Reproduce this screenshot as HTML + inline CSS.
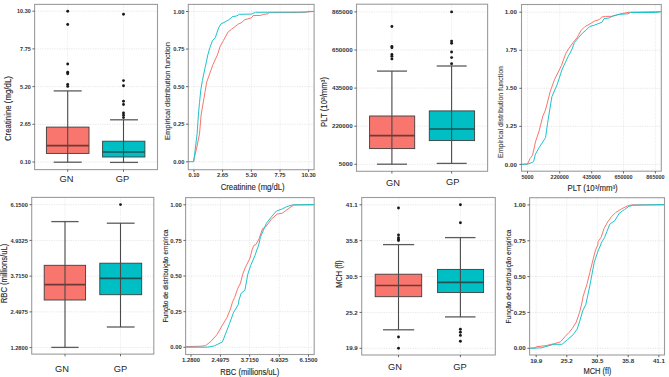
<!DOCTYPE html>
<html><head><meta charset="utf-8"><style>
html,body{margin:0;padding:0;background:#fff;width:669px;height:377px;overflow:hidden}
svg{display:block;font-family:"Liberation Sans", sans-serif}
</style></head><body>
<svg width="669" height="377" viewBox="0 0 669 377">
<rect width="669" height="377" fill="#fff"/>
<defs><clipPath id="clip4"><rect x="495" y="0" width="50" height="25"/><rect x="506.2" y="25" width="40" height="125"/><rect x="495" y="150" width="50" height="40"/></clipPath></defs>
<line x1="35.20" y1="162.00" x2="156.90" y2="162.00" stroke="#e0e0e0" stroke-width="0.8" stroke-dasharray="1.2 1.2"/>
<line x1="35.20" y1="124.30" x2="156.90" y2="124.30" stroke="#e0e0e0" stroke-width="0.8" stroke-dasharray="1.2 1.2"/>
<line x1="35.20" y1="86.60" x2="156.90" y2="86.60" stroke="#e0e0e0" stroke-width="0.8" stroke-dasharray="1.2 1.2"/>
<line x1="35.20" y1="48.90" x2="156.90" y2="48.90" stroke="#e0e0e0" stroke-width="0.8" stroke-dasharray="1.2 1.2"/>
<line x1="35.20" y1="11.20" x2="156.90" y2="11.20" stroke="#e0e0e0" stroke-width="0.8" stroke-dasharray="1.2 1.2"/>
<line x1="67.70" y1="5.00" x2="67.70" y2="169.00" stroke="#e6e6e6" stroke-width="0.8" stroke-dasharray="1.2 1.2"/>
<line x1="123.50" y1="5.00" x2="123.50" y2="169.00" stroke="#e6e6e6" stroke-width="0.8" stroke-dasharray="1.2 1.2"/>
<line x1="53.70" y1="90.90" x2="81.70" y2="90.90" stroke="#5c5c5c" stroke-width="1.3" />
<line x1="53.70" y1="162.20" x2="81.70" y2="162.20" stroke="#5c5c5c" stroke-width="1.3" />
<rect x="46.40" y="127.10" width="42.60" height="26.30" fill="#F8766D" stroke="#3d3d3d" stroke-width="0.9"/>
<line x1="67.70" y1="90.90" x2="67.70" y2="162.20" stroke="#4a4a4a" stroke-width="1.1" />
<line x1="46.40" y1="145.70" x2="89.00" y2="145.70" stroke="#6e3a36" stroke-width="1.7" />
<circle cx="67.70" cy="11.20" r="1.45" fill="#1a1a1a"/>
<circle cx="67.70" cy="24.50" r="1.45" fill="#1a1a1a"/>
<circle cx="67.70" cy="64.00" r="1.45" fill="#1a1a1a"/>
<circle cx="67.70" cy="72.20" r="1.45" fill="#1a1a1a"/>
<circle cx="67.70" cy="73.70" r="1.45" fill="#1a1a1a"/>
<circle cx="67.70" cy="84.50" r="1.45" fill="#1a1a1a"/>
<circle cx="67.70" cy="86.40" r="1.45" fill="#1a1a1a"/>
<line x1="110.00" y1="119.80" x2="138.00" y2="119.80" stroke="#5c5c5c" stroke-width="1.3" />
<line x1="110.00" y1="162.40" x2="138.00" y2="162.40" stroke="#5c5c5c" stroke-width="1.3" />
<rect x="102.60" y="141.20" width="42.30" height="15.80" fill="#00BFC4" stroke="#3d3d3d" stroke-width="0.9"/>
<line x1="123.50" y1="119.80" x2="123.50" y2="162.40" stroke="#4a4a4a" stroke-width="1.1" />
<line x1="102.60" y1="152.00" x2="144.90" y2="152.00" stroke="#1d5355" stroke-width="1.7" />
<circle cx="123.50" cy="14.20" r="1.45" fill="#1a1a1a"/>
<circle cx="123.50" cy="80.60" r="1.45" fill="#1a1a1a"/>
<circle cx="123.50" cy="85.80" r="1.45" fill="#1a1a1a"/>
<circle cx="123.50" cy="101.30" r="1.45" fill="#1a1a1a"/>
<circle cx="123.50" cy="104.50" r="1.45" fill="#1a1a1a"/>
<circle cx="123.50" cy="112.90" r="1.45" fill="#1a1a1a"/>
<circle cx="123.50" cy="115.20" r="1.45" fill="#1a1a1a"/>
<circle cx="123.50" cy="117.60" r="1.45" fill="#1a1a1a"/>
<rect x="34.60" y="4.40" width="122.90" height="165.20" fill="none" stroke="#9c9c9c" stroke-width="1.1"/>
<line x1="32.40" y1="162.00" x2="34.60" y2="162.00" stroke="#555" stroke-width="0.9" />
<line x1="32.40" y1="124.30" x2="34.60" y2="124.30" stroke="#555" stroke-width="0.9" />
<line x1="32.40" y1="86.60" x2="34.60" y2="86.60" stroke="#555" stroke-width="0.9" />
<line x1="32.40" y1="48.90" x2="34.60" y2="48.90" stroke="#555" stroke-width="0.9" />
<line x1="32.40" y1="11.20" x2="34.60" y2="11.20" stroke="#555" stroke-width="0.9" />
<text transform="translate(30.70,164.10) scale(0.88,1)" font-size="6.2" fill="#333" text-anchor="end" font-weight="600" >0.10</text>
<text transform="translate(30.70,126.40) scale(0.88,1)" font-size="6.2" fill="#333" text-anchor="end" font-weight="600" >2.65</text>
<text transform="translate(30.70,88.70) scale(0.88,1)" font-size="6.2" fill="#333" text-anchor="end" font-weight="600" >5.20</text>
<text transform="translate(30.70,51.00) scale(0.88,1)" font-size="6.2" fill="#333" text-anchor="end" font-weight="600" >7.75</text>
<text transform="translate(30.70,13.30) scale(0.88,1)" font-size="6.2" fill="#333" text-anchor="end" font-weight="600" >10.30</text>
<line x1="67.70" y1="169.60" x2="67.70" y2="171.80" stroke="#555" stroke-width="0.9" />
<line x1="123.50" y1="169.60" x2="123.50" y2="171.80" stroke="#555" stroke-width="0.9" />
<text x="66.40" y="182.30" font-size="9.3" fill="#1e1e1e" text-anchor="middle" font-weight="normal" >GN</text>
<text x="122.40" y="182.30" font-size="9.3" fill="#1e1e1e" text-anchor="middle" font-weight="normal" >GP</text>
<text transform="translate(8.00,108.60) rotate(-90)" x="0" y="0" dy="0.35em" font-size="8.2" fill="#262626" stroke="#262626" stroke-width="0.12" text-anchor="middle" textLength="65" lengthAdjust="spacingAndGlyphs">Creatinine (mg/dL)</text>
<line x1="357.10" y1="164.30" x2="487.00" y2="164.30" stroke="#e0e0e0" stroke-width="0.8" stroke-dasharray="1.2 1.2"/>
<line x1="357.10" y1="126.20" x2="487.00" y2="126.20" stroke="#e0e0e0" stroke-width="0.8" stroke-dasharray="1.2 1.2"/>
<line x1="357.10" y1="88.10" x2="487.00" y2="88.10" stroke="#e0e0e0" stroke-width="0.8" stroke-dasharray="1.2 1.2"/>
<line x1="357.10" y1="50.00" x2="487.00" y2="50.00" stroke="#e0e0e0" stroke-width="0.8" stroke-dasharray="1.2 1.2"/>
<line x1="357.10" y1="11.90" x2="487.00" y2="11.90" stroke="#e0e0e0" stroke-width="0.8" stroke-dasharray="1.2 1.2"/>
<line x1="391.90" y1="4.80" x2="391.90" y2="170.70" stroke="#e6e6e6" stroke-width="0.8" stroke-dasharray="1.2 1.2"/>
<line x1="451.60" y1="4.80" x2="451.60" y2="170.70" stroke="#e6e6e6" stroke-width="0.8" stroke-dasharray="1.2 1.2"/>
<line x1="377.00" y1="71.10" x2="407.00" y2="71.10" stroke="#5c5c5c" stroke-width="1.3" />
<line x1="377.00" y1="164.20" x2="407.00" y2="164.20" stroke="#5c5c5c" stroke-width="1.3" />
<rect x="369.60" y="116.00" width="45.10" height="32.60" fill="#F8766D" stroke="#3d3d3d" stroke-width="0.9"/>
<line x1="391.90" y1="71.10" x2="391.90" y2="164.20" stroke="#4a4a4a" stroke-width="1.1" />
<line x1="369.60" y1="135.60" x2="414.70" y2="135.60" stroke="#6e3a36" stroke-width="1.7" />
<circle cx="391.90" cy="26.50" r="1.45" fill="#1a1a1a"/>
<circle cx="391.90" cy="46.40" r="1.45" fill="#1a1a1a"/>
<circle cx="391.90" cy="47.70" r="1.45" fill="#1a1a1a"/>
<circle cx="391.90" cy="54.40" r="1.45" fill="#1a1a1a"/>
<circle cx="391.90" cy="56.20" r="1.45" fill="#1a1a1a"/>
<circle cx="391.90" cy="58.90" r="1.45" fill="#1a1a1a"/>
<line x1="436.70" y1="66.00" x2="466.70" y2="66.00" stroke="#5c5c5c" stroke-width="1.3" />
<line x1="436.70" y1="163.40" x2="466.70" y2="163.40" stroke="#5c5c5c" stroke-width="1.3" />
<rect x="429.30" y="110.90" width="45.30" height="29.70" fill="#00BFC4" stroke="#3d3d3d" stroke-width="0.9"/>
<line x1="451.60" y1="66.00" x2="451.60" y2="163.40" stroke="#4a4a4a" stroke-width="1.1" />
<line x1="429.30" y1="129.00" x2="474.60" y2="129.00" stroke="#1d5355" stroke-width="1.7" />
<circle cx="451.60" cy="11.90" r="1.45" fill="#1a1a1a"/>
<circle cx="451.60" cy="41.10" r="1.45" fill="#1a1a1a"/>
<circle cx="451.60" cy="43.20" r="1.45" fill="#1a1a1a"/>
<circle cx="451.60" cy="52.00" r="1.45" fill="#1a1a1a"/>
<circle cx="451.60" cy="57.60" r="1.45" fill="#1a1a1a"/>
<circle cx="451.60" cy="63.70" r="1.45" fill="#1a1a1a"/>
<rect x="356.50" y="4.20" width="131.10" height="167.10" fill="none" stroke="#9c9c9c" stroke-width="1.1"/>
<line x1="354.30" y1="164.30" x2="356.50" y2="164.30" stroke="#555" stroke-width="0.9" />
<line x1="354.30" y1="126.20" x2="356.50" y2="126.20" stroke="#555" stroke-width="0.9" />
<line x1="354.30" y1="88.10" x2="356.50" y2="88.10" stroke="#555" stroke-width="0.9" />
<line x1="354.30" y1="50.00" x2="356.50" y2="50.00" stroke="#555" stroke-width="0.9" />
<line x1="354.30" y1="11.90" x2="356.50" y2="11.90" stroke="#555" stroke-width="0.9" />
<text x="352.60" y="166.40" font-size="6.2" fill="#333" text-anchor="end" font-weight="600" >5000</text>
<text x="352.60" y="128.30" font-size="6.2" fill="#333" text-anchor="end" font-weight="600" >220000</text>
<text x="352.60" y="90.20" font-size="6.2" fill="#333" text-anchor="end" font-weight="600" >435000</text>
<text x="352.60" y="52.10" font-size="6.2" fill="#333" text-anchor="end" font-weight="600" >650000</text>
<text x="352.60" y="14.00" font-size="6.2" fill="#333" text-anchor="end" font-weight="600" >865000</text>
<line x1="391.90" y1="171.30" x2="391.90" y2="173.50" stroke="#555" stroke-width="0.9" />
<line x1="451.60" y1="171.30" x2="451.60" y2="173.50" stroke="#555" stroke-width="0.9" />
<text x="393.10" y="185.60" font-size="9.3" fill="#1e1e1e" text-anchor="middle" font-weight="normal" >GN</text>
<text x="452.70" y="184.70" font-size="9.3" fill="#1e1e1e" text-anchor="middle" font-weight="normal" >GP</text>
<text transform="translate(324.00,102.00) rotate(-90)" x="0" y="0" dy="0.35em" font-size="8.2" fill="#262626" stroke="#262626" stroke-width="0.12" text-anchor="middle" textLength="50" lengthAdjust="spacingAndGlyphs">PLT (10³/mm³)</text>
<line x1="32.30" y1="347.60" x2="153.20" y2="347.60" stroke="#e0e0e0" stroke-width="0.8" stroke-dasharray="1.2 1.2"/>
<line x1="32.30" y1="311.88" x2="153.20" y2="311.88" stroke="#e0e0e0" stroke-width="0.8" stroke-dasharray="1.2 1.2"/>
<line x1="32.30" y1="276.15" x2="153.20" y2="276.15" stroke="#e0e0e0" stroke-width="0.8" stroke-dasharray="1.2 1.2"/>
<line x1="32.30" y1="240.43" x2="153.20" y2="240.43" stroke="#e0e0e0" stroke-width="0.8" stroke-dasharray="1.2 1.2"/>
<line x1="32.30" y1="204.70" x2="153.20" y2="204.70" stroke="#e0e0e0" stroke-width="0.8" stroke-dasharray="1.2 1.2"/>
<line x1="65.00" y1="198.00" x2="65.00" y2="353.50" stroke="#e6e6e6" stroke-width="0.8" stroke-dasharray="1.2 1.2"/>
<line x1="120.50" y1="198.00" x2="120.50" y2="353.50" stroke="#e6e6e6" stroke-width="0.8" stroke-dasharray="1.2 1.2"/>
<line x1="51.30" y1="221.60" x2="78.60" y2="221.60" stroke="#5c5c5c" stroke-width="1.3" />
<line x1="51.30" y1="347.40" x2="78.60" y2="347.40" stroke="#5c5c5c" stroke-width="1.3" />
<rect x="44.20" y="265.30" width="41.40" height="34.70" fill="#F8766D" stroke="#3d3d3d" stroke-width="0.9"/>
<line x1="65.00" y1="221.60" x2="65.00" y2="347.40" stroke="#4a4a4a" stroke-width="1.1" />
<line x1="44.20" y1="284.60" x2="85.60" y2="284.60" stroke="#6e3a36" stroke-width="1.7" />
<line x1="106.80" y1="223.20" x2="134.60" y2="223.20" stroke="#5c5c5c" stroke-width="1.3" />
<line x1="106.80" y1="327.00" x2="134.60" y2="327.00" stroke="#5c5c5c" stroke-width="1.3" />
<rect x="99.80" y="263.20" width="41.90" height="31.50" fill="#00BFC4" stroke="#3d3d3d" stroke-width="0.9"/>
<line x1="120.50" y1="223.20" x2="120.50" y2="327.00" stroke="#4a4a4a" stroke-width="1.1" />
<line x1="99.80" y1="278.30" x2="141.70" y2="278.30" stroke="#1d5355" stroke-width="1.7" />
<circle cx="120.50" cy="204.60" r="1.45" fill="#1a1a1a"/>
<rect x="31.70" y="197.40" width="122.10" height="156.70" fill="none" stroke="#9c9c9c" stroke-width="1.1"/>
<line x1="29.50" y1="347.60" x2="31.70" y2="347.60" stroke="#555" stroke-width="0.9" />
<line x1="29.50" y1="311.88" x2="31.70" y2="311.88" stroke="#555" stroke-width="0.9" />
<line x1="29.50" y1="276.15" x2="31.70" y2="276.15" stroke="#555" stroke-width="0.9" />
<line x1="29.50" y1="240.43" x2="31.70" y2="240.43" stroke="#555" stroke-width="0.9" />
<line x1="29.50" y1="204.70" x2="31.70" y2="204.70" stroke="#555" stroke-width="0.9" />
<text transform="translate(27.80,349.70) scale(0.92,1)" font-size="6.2" fill="#333" text-anchor="end" font-weight="600" >1.2800</text>
<text transform="translate(27.80,313.98) scale(0.92,1)" font-size="6.2" fill="#333" text-anchor="end" font-weight="600" >2.4975</text>
<text transform="translate(27.80,278.25) scale(0.92,1)" font-size="6.2" fill="#333" text-anchor="end" font-weight="600" >3.7150</text>
<text transform="translate(27.80,242.53) scale(0.92,1)" font-size="6.2" fill="#333" text-anchor="end" font-weight="600" >4.9325</text>
<text transform="translate(27.80,206.80) scale(0.92,1)" font-size="6.2" fill="#333" text-anchor="end" font-weight="600" >6.1500</text>
<line x1="65.00" y1="354.10" x2="65.00" y2="356.30" stroke="#555" stroke-width="0.9" />
<line x1="120.50" y1="354.10" x2="120.50" y2="356.30" stroke="#555" stroke-width="0.9" />
<text x="62.10" y="372.20" font-size="9.3" fill="#1e1e1e" text-anchor="middle" font-weight="normal" >GN</text>
<text x="120.40" y="372.20" font-size="9.3" fill="#1e1e1e" text-anchor="middle" font-weight="normal" >GP</text>
<text transform="translate(4.50,273.50) rotate(-90)" x="0" y="0" dy="0.35em" font-size="8.2" fill="#262626" stroke="#262626" stroke-width="0.12" text-anchor="middle" textLength="59.4" lengthAdjust="spacingAndGlyphs">RBC (millions/uL)</text>
<line x1="362.30" y1="348.30" x2="494.70" y2="348.30" stroke="#e0e0e0" stroke-width="0.8" stroke-dasharray="1.2 1.2"/>
<line x1="362.30" y1="312.43" x2="494.70" y2="312.43" stroke="#e0e0e0" stroke-width="0.8" stroke-dasharray="1.2 1.2"/>
<line x1="362.30" y1="276.55" x2="494.70" y2="276.55" stroke="#e0e0e0" stroke-width="0.8" stroke-dasharray="1.2 1.2"/>
<line x1="362.30" y1="240.68" x2="494.70" y2="240.68" stroke="#e0e0e0" stroke-width="0.8" stroke-dasharray="1.2 1.2"/>
<line x1="362.30" y1="204.80" x2="494.70" y2="204.80" stroke="#e0e0e0" stroke-width="0.8" stroke-dasharray="1.2 1.2"/>
<line x1="398.50" y1="198.10" x2="398.50" y2="354.40" stroke="#e6e6e6" stroke-width="0.8" stroke-dasharray="1.2 1.2"/>
<line x1="460.40" y1="198.10" x2="460.40" y2="354.40" stroke="#e6e6e6" stroke-width="0.8" stroke-dasharray="1.2 1.2"/>
<line x1="383.00" y1="244.60" x2="414.20" y2="244.60" stroke="#5c5c5c" stroke-width="1.3" />
<line x1="383.00" y1="329.80" x2="414.20" y2="329.80" stroke="#5c5c5c" stroke-width="1.3" />
<rect x="375.20" y="274.20" width="46.50" height="22.50" fill="#F8766D" stroke="#3d3d3d" stroke-width="0.9"/>
<line x1="398.50" y1="244.60" x2="398.50" y2="329.80" stroke="#4a4a4a" stroke-width="1.1" />
<line x1="375.20" y1="285.50" x2="421.70" y2="285.50" stroke="#6e3a36" stroke-width="1.7" />
<circle cx="398.50" cy="208.00" r="1.45" fill="#1a1a1a"/>
<circle cx="398.50" cy="234.90" r="1.45" fill="#1a1a1a"/>
<circle cx="398.50" cy="237.60" r="1.45" fill="#1a1a1a"/>
<circle cx="398.50" cy="239.20" r="1.45" fill="#1a1a1a"/>
<circle cx="398.50" cy="240.60" r="1.45" fill="#1a1a1a"/>
<circle cx="398.50" cy="337.00" r="1.45" fill="#1a1a1a"/>
<circle cx="398.50" cy="348.30" r="1.45" fill="#1a1a1a"/>
<line x1="445.00" y1="237.60" x2="475.50" y2="237.60" stroke="#5c5c5c" stroke-width="1.3" />
<line x1="445.00" y1="316.90" x2="475.50" y2="316.90" stroke="#5c5c5c" stroke-width="1.3" />
<rect x="437.60" y="269.40" width="46.00" height="23.20" fill="#00BFC4" stroke="#3d3d3d" stroke-width="0.9"/>
<line x1="460.40" y1="237.60" x2="460.40" y2="316.90" stroke="#4a4a4a" stroke-width="1.1" />
<line x1="437.60" y1="282.30" x2="483.60" y2="282.30" stroke="#1d5355" stroke-width="1.7" />
<circle cx="460.40" cy="204.80" r="1.45" fill="#1a1a1a"/>
<circle cx="460.40" cy="222.80" r="1.45" fill="#1a1a1a"/>
<circle cx="460.40" cy="329.20" r="1.45" fill="#1a1a1a"/>
<circle cx="460.40" cy="332.20" r="1.45" fill="#1a1a1a"/>
<circle cx="460.40" cy="335.40" r="1.45" fill="#1a1a1a"/>
<circle cx="460.40" cy="341.30" r="1.45" fill="#1a1a1a"/>
<rect x="361.70" y="197.50" width="133.60" height="157.50" fill="none" stroke="#9c9c9c" stroke-width="1.1"/>
<line x1="359.50" y1="348.30" x2="361.70" y2="348.30" stroke="#555" stroke-width="0.9" />
<line x1="359.50" y1="312.43" x2="361.70" y2="312.43" stroke="#555" stroke-width="0.9" />
<line x1="359.50" y1="276.55" x2="361.70" y2="276.55" stroke="#555" stroke-width="0.9" />
<line x1="359.50" y1="240.68" x2="361.70" y2="240.68" stroke="#555" stroke-width="0.9" />
<line x1="359.50" y1="204.80" x2="361.70" y2="204.80" stroke="#555" stroke-width="0.9" />
<text x="357.80" y="350.40" font-size="6.2" fill="#333" text-anchor="end" font-weight="600" >19.9</text>
<text x="357.80" y="314.53" font-size="6.2" fill="#333" text-anchor="end" font-weight="600" >25.2</text>
<text x="357.80" y="278.65" font-size="6.2" fill="#333" text-anchor="end" font-weight="600" >30.5</text>
<text x="357.80" y="242.78" font-size="6.2" fill="#333" text-anchor="end" font-weight="600" >35.8</text>
<text x="357.80" y="206.90" font-size="6.2" fill="#333" text-anchor="end" font-weight="600" >41.1</text>
<line x1="398.50" y1="355.00" x2="398.50" y2="357.20" stroke="#555" stroke-width="0.9" />
<line x1="460.40" y1="355.00" x2="460.40" y2="357.20" stroke="#555" stroke-width="0.9" />
<text x="395.00" y="369.50" font-size="9.3" fill="#1e1e1e" text-anchor="middle" font-weight="normal" >GN</text>
<text x="459.90" y="369.50" font-size="9.3" fill="#1e1e1e" text-anchor="middle" font-weight="normal" >GP</text>
<text transform="translate(339.00,274.00) rotate(-90)" x="0" y="0" dy="0.35em" font-size="8.2" fill="#262626" stroke="#262626" stroke-width="0.12" text-anchor="middle" textLength="27.6" lengthAdjust="spacingAndGlyphs">MCH (fl)</text>
<line x1="188.90" y1="161.80" x2="313.50" y2="161.80" stroke="#e0e0e0" stroke-width="0.8" stroke-dasharray="1.2 1.2"/>
<line x1="188.90" y1="124.23" x2="313.50" y2="124.23" stroke="#e0e0e0" stroke-width="0.8" stroke-dasharray="1.2 1.2"/>
<line x1="188.90" y1="86.65" x2="313.50" y2="86.65" stroke="#e0e0e0" stroke-width="0.8" stroke-dasharray="1.2 1.2"/>
<line x1="188.90" y1="49.08" x2="313.50" y2="49.08" stroke="#e0e0e0" stroke-width="0.8" stroke-dasharray="1.2 1.2"/>
<line x1="188.90" y1="11.50" x2="313.50" y2="11.50" stroke="#e0e0e0" stroke-width="0.8" stroke-dasharray="1.2 1.2"/>
<line x1="194.00" y1="5.00" x2="194.00" y2="169.10" stroke="#e6e6e6" stroke-width="0.8" stroke-dasharray="1.2 1.2"/>
<line x1="222.60" y1="5.00" x2="222.60" y2="169.10" stroke="#e6e6e6" stroke-width="0.8" stroke-dasharray="1.2 1.2"/>
<line x1="251.30" y1="5.00" x2="251.30" y2="169.10" stroke="#e6e6e6" stroke-width="0.8" stroke-dasharray="1.2 1.2"/>
<line x1="280.00" y1="5.00" x2="280.00" y2="169.10" stroke="#e6e6e6" stroke-width="0.8" stroke-dasharray="1.2 1.2"/>
<line x1="308.60" y1="5.00" x2="308.60" y2="169.10" stroke="#e6e6e6" stroke-width="0.8" stroke-dasharray="1.2 1.2"/>
<polyline points="193.60,161.70 194.30,157.70 196.30,149.80 199.50,133.90 201.10,115.00 203.20,102.70 205.10,91.60 206.70,82.10 210.70,70.90 213.00,64.50 217.40,55.00 220.20,46.20 223.40,40.60 228.20,31.80 231.40,29.40 238.50,23.90 240.90,23.10 244.80,19.70 251.40,17.90 253.20,15.50 260.30,15.50 263.30,14.40 268.10,13.80 269.30,12.60 298.60,12.60 308.20,12.00 314.00,11.40" fill="none" stroke="#F8766D" stroke-width="1.0" stroke-linejoin="round"/>
<polyline points="188.40,161.70 193.60,161.70 194.80,153.00 197.10,133.90 198.40,115.00 199.50,102.70 200.80,90.00 202.40,80.50 205.10,67.70 207.80,55.00 209.90,47.70 212.30,41.00 215.40,37.40 218.60,27.90 221.00,23.90 225.00,22.00 229.80,19.10 232.20,16.70 236.90,15.90 239.30,14.30 251.40,14.10 255.50,12.30 306.40,12.00 307.60,11.40 314.00,11.40" fill="none" stroke="#1CC3CB" stroke-width="1.0" stroke-linejoin="round"/>
<rect x="188.30" y="4.40" width="125.80" height="165.30" fill="none" stroke="#9c9c9c" stroke-width="1.1"/>
<line x1="186.10" y1="161.80" x2="188.30" y2="161.80" stroke="#555" stroke-width="0.9" />
<line x1="186.10" y1="124.23" x2="188.30" y2="124.23" stroke="#555" stroke-width="0.9" />
<line x1="186.10" y1="86.65" x2="188.30" y2="86.65" stroke="#555" stroke-width="0.9" />
<line x1="186.10" y1="49.08" x2="188.30" y2="49.08" stroke="#555" stroke-width="0.9" />
<line x1="186.10" y1="11.50" x2="188.30" y2="11.50" stroke="#555" stroke-width="0.9" />
<text transform="translate(184.40,163.90) scale(0.92,1)" font-size="6.2" fill="#333" text-anchor="end" font-weight="600" >0.00</text>
<text transform="translate(184.40,126.33) scale(0.92,1)" font-size="6.2" fill="#333" text-anchor="end" font-weight="600" >0.25</text>
<text transform="translate(184.40,88.75) scale(0.92,1)" font-size="6.2" fill="#333" text-anchor="end" font-weight="600" >0.50</text>
<text transform="translate(184.40,51.18) scale(0.92,1)" font-size="6.2" fill="#333" text-anchor="end" font-weight="600" >0.75</text>
<text transform="translate(184.40,13.60) scale(0.92,1)" font-size="6.2" fill="#333" text-anchor="end" font-weight="600" >1.00</text>
<line x1="194.00" y1="169.70" x2="194.00" y2="171.90" stroke="#555" stroke-width="0.9" />
<line x1="222.60" y1="169.70" x2="222.60" y2="171.90" stroke="#555" stroke-width="0.9" />
<line x1="251.30" y1="169.70" x2="251.30" y2="171.90" stroke="#555" stroke-width="0.9" />
<line x1="280.00" y1="169.70" x2="280.00" y2="171.90" stroke="#555" stroke-width="0.9" />
<line x1="308.60" y1="169.70" x2="308.60" y2="171.90" stroke="#555" stroke-width="0.9" />
<text transform="translate(194.00,176.90) scale(0.92,1)" font-size="6.2" fill="#333" text-anchor="middle" font-weight="600" >0.10</text>
<text transform="translate(222.60,176.90) scale(0.92,1)" font-size="6.2" fill="#333" text-anchor="middle" font-weight="600" >2.65</text>
<text transform="translate(251.30,176.90) scale(0.92,1)" font-size="6.2" fill="#333" text-anchor="middle" font-weight="600" >5.20</text>
<text transform="translate(280.00,176.90) scale(0.92,1)" font-size="6.2" fill="#333" text-anchor="middle" font-weight="600" >7.75</text>
<text transform="translate(308.60,176.90) scale(0.92,1)" font-size="6.2" fill="#333" text-anchor="middle" font-weight="600" >10.30</text>
<text x="252.70" y="189.60" font-size="8.2" fill="#262626" text-anchor="middle" font-weight="normal" textLength="64" lengthAdjust="spacingAndGlyphs" stroke="#262626" stroke-width="0.12">Creatinine (mg/dL)</text>
<text transform="translate(167.00,91.00) rotate(-90)" x="0" y="0" dy="0.35em" font-size="8.0" fill="#3a3a3a" stroke="#3a3a3a" stroke-width="0.12" text-anchor="middle" textLength="98" lengthAdjust="spacingAndGlyphs">Empirical distribution function</text>
<line x1="522.10" y1="164.40" x2="660.70" y2="164.40" stroke="#e0e0e0" stroke-width="0.8" stroke-dasharray="1.2 1.2"/>
<line x1="522.10" y1="126.35" x2="660.70" y2="126.35" stroke="#e0e0e0" stroke-width="0.8" stroke-dasharray="1.2 1.2"/>
<line x1="522.10" y1="88.30" x2="660.70" y2="88.30" stroke="#e0e0e0" stroke-width="0.8" stroke-dasharray="1.2 1.2"/>
<line x1="522.10" y1="50.25" x2="660.70" y2="50.25" stroke="#e0e0e0" stroke-width="0.8" stroke-dasharray="1.2 1.2"/>
<line x1="522.10" y1="12.20" x2="660.70" y2="12.20" stroke="#e0e0e0" stroke-width="0.8" stroke-dasharray="1.2 1.2"/>
<line x1="527.50" y1="5.10" x2="527.50" y2="170.60" stroke="#e6e6e6" stroke-width="0.8" stroke-dasharray="1.2 1.2"/>
<line x1="559.70" y1="5.10" x2="559.70" y2="170.60" stroke="#e6e6e6" stroke-width="0.8" stroke-dasharray="1.2 1.2"/>
<line x1="591.70" y1="5.10" x2="591.70" y2="170.60" stroke="#e6e6e6" stroke-width="0.8" stroke-dasharray="1.2 1.2"/>
<line x1="623.50" y1="5.10" x2="623.50" y2="170.60" stroke="#e6e6e6" stroke-width="0.8" stroke-dasharray="1.2 1.2"/>
<line x1="655.40" y1="5.10" x2="655.40" y2="170.60" stroke="#e6e6e6" stroke-width="0.8" stroke-dasharray="1.2 1.2"/>
<polyline points="521.50,164.40 527.60,164.00 529.90,158.80 532.60,155.10 535.40,142.10 539.10,131.00 542.80,116.10 545.50,110.00 550.20,91.60 554.50,79.50 561.40,65.70 565.70,53.60 567.80,50.00 573.10,42.50 577.00,37.80 581.00,30.50 585.00,26.50 589.00,24.50 594.30,21.20 599.20,19.60 601.90,17.00 605.60,16.40 612.00,16.40 620.50,13.80 626.30,12.70 630.00,12.20 655.40,11.70 661.30,11.70" fill="none" stroke="#F8766D" stroke-width="1.0" stroke-linejoin="round"/>
<polyline points="521.50,164.40 528.00,164.00 532.60,162.20 533.60,161.60 535.40,154.20 539.10,147.70 545.60,137.50 547.50,123.60 549.70,110.00 551.90,96.70 557.10,84.70 562.20,69.10 568.30,56.20 571.70,50.00 574.40,42.50 578.40,37.80 582.40,33.20 586.30,29.90 589.70,26.50 594.30,25.20 601.90,22.30 604.00,18.60 608.80,18.00 613.00,15.90 619.40,14.30 627.90,13.80 630.50,12.50 655.40,12.50 661.30,11.70" fill="none" stroke="#1CC3CB" stroke-width="1.0" stroke-linejoin="round"/>
<rect x="521.50" y="4.50" width="139.80" height="166.70" fill="none" stroke="#9c9c9c" stroke-width="1.1"/>
<line x1="519.30" y1="164.40" x2="521.50" y2="164.40" stroke="#555" stroke-width="0.9" />
<line x1="519.30" y1="126.35" x2="521.50" y2="126.35" stroke="#555" stroke-width="0.9" />
<line x1="519.30" y1="88.30" x2="521.50" y2="88.30" stroke="#555" stroke-width="0.9" />
<line x1="519.30" y1="50.25" x2="521.50" y2="50.25" stroke="#555" stroke-width="0.9" />
<line x1="519.30" y1="12.20" x2="521.50" y2="12.20" stroke="#555" stroke-width="0.9" />
<g clip-path="url(#clip4)">
<text x="516.90" y="166.50" font-size="6.2" fill="#333" text-anchor="end" font-weight="600" >0.00</text>
</g>
<g clip-path="url(#clip4)">
<text x="516.90" y="128.45" font-size="6.2" fill="#333" text-anchor="end" font-weight="600" >0.25</text>
</g>
<g clip-path="url(#clip4)">
<text x="516.90" y="90.40" font-size="6.2" fill="#333" text-anchor="end" font-weight="600" >0.50</text>
</g>
<g clip-path="url(#clip4)">
<text x="516.90" y="52.35" font-size="6.2" fill="#333" text-anchor="end" font-weight="600" >0.75</text>
</g>
<g clip-path="url(#clip4)">
<text x="516.90" y="14.30" font-size="6.2" fill="#333" text-anchor="end" font-weight="600" >1.00</text>
</g>
<line x1="527.50" y1="171.20" x2="527.50" y2="173.40" stroke="#555" stroke-width="0.9" />
<line x1="559.70" y1="171.20" x2="559.70" y2="173.40" stroke="#555" stroke-width="0.9" />
<line x1="591.70" y1="171.20" x2="591.70" y2="173.40" stroke="#555" stroke-width="0.9" />
<line x1="623.50" y1="171.20" x2="623.50" y2="173.40" stroke="#555" stroke-width="0.9" />
<line x1="655.40" y1="171.20" x2="655.40" y2="173.40" stroke="#555" stroke-width="0.9" />
<text transform="translate(527.50,179.00) scale(0.88,1)" font-size="6.2" fill="#333" text-anchor="middle" font-weight="600" >5000</text>
<text transform="translate(559.70,179.00) scale(0.88,1)" font-size="6.2" fill="#333" text-anchor="middle" font-weight="600" >220000</text>
<text transform="translate(591.70,179.00) scale(0.88,1)" font-size="6.2" fill="#333" text-anchor="middle" font-weight="600" >435000</text>
<text transform="translate(623.50,179.00) scale(0.88,1)" font-size="6.2" fill="#333" text-anchor="middle" font-weight="600" >650000</text>
<text transform="translate(655.40,179.00) scale(0.88,1)" font-size="6.2" fill="#333" text-anchor="middle" font-weight="600" >865000</text>
<text x="592.60" y="191.40" font-size="8.2" fill="#262626" text-anchor="middle" font-weight="normal" textLength="50" lengthAdjust="spacingAndGlyphs" stroke="#262626" stroke-width="0.12">PLT (10³/mm³)</text>
<text transform="translate(500.50,112.00) rotate(-90)" x="0" y="0" dy="0.35em" font-size="8.0" fill="#4a4a4a" stroke="#4a4a4a" stroke-width="0.12" text-anchor="middle" textLength="92" lengthAdjust="spacingAndGlyphs">Empirical distribution function</text>
<line x1="186.20" y1="347.30" x2="313.60" y2="347.30" stroke="#e0e0e0" stroke-width="0.8" stroke-dasharray="1.2 1.2"/>
<line x1="186.20" y1="311.68" x2="313.60" y2="311.68" stroke="#e0e0e0" stroke-width="0.8" stroke-dasharray="1.2 1.2"/>
<line x1="186.20" y1="276.05" x2="313.60" y2="276.05" stroke="#e0e0e0" stroke-width="0.8" stroke-dasharray="1.2 1.2"/>
<line x1="186.20" y1="240.43" x2="313.60" y2="240.43" stroke="#e0e0e0" stroke-width="0.8" stroke-dasharray="1.2 1.2"/>
<line x1="186.20" y1="204.80" x2="313.60" y2="204.80" stroke="#e0e0e0" stroke-width="0.8" stroke-dasharray="1.2 1.2"/>
<line x1="191.00" y1="198.20" x2="191.00" y2="353.90" stroke="#e6e6e6" stroke-width="0.8" stroke-dasharray="1.2 1.2"/>
<line x1="220.40" y1="198.20" x2="220.40" y2="353.90" stroke="#e6e6e6" stroke-width="0.8" stroke-dasharray="1.2 1.2"/>
<line x1="249.70" y1="198.20" x2="249.70" y2="353.90" stroke="#e6e6e6" stroke-width="0.8" stroke-dasharray="1.2 1.2"/>
<line x1="279.30" y1="198.20" x2="279.30" y2="353.90" stroke="#e6e6e6" stroke-width="0.8" stroke-dasharray="1.2 1.2"/>
<line x1="308.50" y1="198.20" x2="308.50" y2="353.90" stroke="#e6e6e6" stroke-width="0.8" stroke-dasharray="1.2 1.2"/>
<polyline points="185.60,346.70 200.90,346.20 205.70,345.60 211.20,341.10 216.80,334.80 222.40,325.20 227.10,317.30 230.30,309.30 232.70,301.40 234.60,297.60 237.60,288.80 240.50,283.00 242.70,274.20 245.60,266.90 250.00,258.10 252.20,249.40 253.90,245.30 256.00,244.60 259.00,238.80 262.60,228.60 265.50,227.10 271.40,219.10 277.20,214.00 282.30,213.20 288.10,208.90 294.00,204.90 314.00,204.90" fill="none" stroke="#F8766D" stroke-width="1.0" stroke-linejoin="round"/>
<polyline points="185.60,347.20 207.30,347.20 214.40,345.90 222.40,341.90 229.50,323.60 233.50,312.50 238.30,304.50 239.00,300.00 241.20,293.20 244.90,290.30 247.80,274.20 250.70,265.40 255.10,255.20 256.80,250.00 258.70,245.00 260.40,237.30 266.30,223.40 271.40,216.90 276.50,211.00 282.30,208.90 286.70,206.70 292.50,204.90 314.00,204.50" fill="none" stroke="#1CC3CB" stroke-width="1.0" stroke-linejoin="round"/>
<rect x="185.60" y="197.60" width="128.60" height="156.90" fill="none" stroke="#9c9c9c" stroke-width="1.1"/>
<line x1="183.40" y1="347.30" x2="185.60" y2="347.30" stroke="#555" stroke-width="0.9" />
<line x1="183.40" y1="311.68" x2="185.60" y2="311.68" stroke="#555" stroke-width="0.9" />
<line x1="183.40" y1="276.05" x2="185.60" y2="276.05" stroke="#555" stroke-width="0.9" />
<line x1="183.40" y1="240.43" x2="185.60" y2="240.43" stroke="#555" stroke-width="0.9" />
<line x1="183.40" y1="204.80" x2="185.60" y2="204.80" stroke="#555" stroke-width="0.9" />
<text transform="translate(181.70,349.40) scale(0.95,1)" font-size="6.2" fill="#333" text-anchor="end" font-weight="600" >0.00</text>
<text transform="translate(181.70,313.78) scale(0.95,1)" font-size="6.2" fill="#333" text-anchor="end" font-weight="600" >0.25</text>
<text transform="translate(181.70,278.15) scale(0.95,1)" font-size="6.2" fill="#333" text-anchor="end" font-weight="600" >0.50</text>
<text transform="translate(181.70,242.53) scale(0.95,1)" font-size="6.2" fill="#333" text-anchor="end" font-weight="600" >0.75</text>
<text transform="translate(181.70,206.90) scale(0.95,1)" font-size="6.2" fill="#333" text-anchor="end" font-weight="600" >1.00</text>
<line x1="191.00" y1="354.50" x2="191.00" y2="356.70" stroke="#555" stroke-width="0.9" />
<line x1="220.40" y1="354.50" x2="220.40" y2="356.70" stroke="#555" stroke-width="0.9" />
<line x1="249.70" y1="354.50" x2="249.70" y2="356.70" stroke="#555" stroke-width="0.9" />
<line x1="279.30" y1="354.50" x2="279.30" y2="356.70" stroke="#555" stroke-width="0.9" />
<line x1="308.50" y1="354.50" x2="308.50" y2="356.70" stroke="#555" stroke-width="0.9" />
<text transform="translate(191.00,362.10) scale(0.95,1)" font-size="6.2" fill="#333" text-anchor="middle" font-weight="600" >1.2800</text>
<text transform="translate(220.40,362.10) scale(0.95,1)" font-size="6.2" fill="#333" text-anchor="middle" font-weight="600" >2.4975</text>
<text transform="translate(249.70,362.10) scale(0.95,1)" font-size="6.2" fill="#333" text-anchor="middle" font-weight="600" >3.7150</text>
<text transform="translate(279.30,362.10) scale(0.95,1)" font-size="6.2" fill="#333" text-anchor="middle" font-weight="600" >4.9325</text>
<text transform="translate(308.50,362.10) scale(0.95,1)" font-size="6.2" fill="#333" text-anchor="middle" font-weight="600" >6.1500</text>
<text x="249.80" y="375.20" font-size="8.2" fill="#262626" text-anchor="middle" font-weight="normal" textLength="59" lengthAdjust="spacingAndGlyphs" stroke="#262626" stroke-width="0.12">RBC (millions/uL)</text>
<text transform="translate(165.00,276.00) rotate(-90)" x="0" y="0" dy="0.35em" font-size="8.0" fill="#262626" stroke="#262626" stroke-width="0.12" text-anchor="middle" textLength="93" lengthAdjust="spacingAndGlyphs">Função de distribuição empírica</text>
<line x1="530.20" y1="348.30" x2="663.90" y2="348.30" stroke="#e0e0e0" stroke-width="0.8" stroke-dasharray="1.2 1.2"/>
<line x1="530.20" y1="312.45" x2="663.90" y2="312.45" stroke="#e0e0e0" stroke-width="0.8" stroke-dasharray="1.2 1.2"/>
<line x1="530.20" y1="276.60" x2="663.90" y2="276.60" stroke="#e0e0e0" stroke-width="0.8" stroke-dasharray="1.2 1.2"/>
<line x1="530.20" y1="240.75" x2="663.90" y2="240.75" stroke="#e0e0e0" stroke-width="0.8" stroke-dasharray="1.2 1.2"/>
<line x1="530.20" y1="204.90" x2="663.90" y2="204.90" stroke="#e0e0e0" stroke-width="0.8" stroke-dasharray="1.2 1.2"/>
<line x1="536.20" y1="198.30" x2="536.20" y2="354.40" stroke="#e6e6e6" stroke-width="0.8" stroke-dasharray="1.2 1.2"/>
<line x1="566.80" y1="198.30" x2="566.80" y2="354.40" stroke="#e6e6e6" stroke-width="0.8" stroke-dasharray="1.2 1.2"/>
<line x1="597.40" y1="198.30" x2="597.40" y2="354.40" stroke="#e6e6e6" stroke-width="0.8" stroke-dasharray="1.2 1.2"/>
<line x1="628.20" y1="198.30" x2="628.20" y2="354.40" stroke="#e6e6e6" stroke-width="0.8" stroke-dasharray="1.2 1.2"/>
<line x1="658.90" y1="198.30" x2="658.90" y2="354.40" stroke="#e6e6e6" stroke-width="0.8" stroke-dasharray="1.2 1.2"/>
<polyline points="529.60,348.30 535.00,347.80 536.50,346.70 546.10,345.60 554.80,343.50 560.40,341.90 565.20,336.40 569.10,332.40 572.30,328.40 576.30,322.00 579.50,312.50 581.90,303.00 583.20,296.10 586.90,284.40 589.80,272.70 593.40,258.10 595.50,250.00 597.80,245.00 598.10,241.70 601.10,237.30 604.00,228.60 607.60,222.00 611.30,216.90 615.70,212.50 621.50,208.90 627.30,206.00 631.70,204.90 664.50,204.90" fill="none" stroke="#F8766D" stroke-width="1.0" stroke-linejoin="round"/>
<polyline points="529.60,348.30 541.30,347.80 554.00,344.30 562.00,344.30 567.60,339.50 573.10,334.80 577.10,329.20 579.50,322.00 582.70,310.90 585.80,304.50 587.60,296.10 589.80,285.90 592.00,274.20 594.20,262.50 595.60,258.10 598.40,250.00 600.70,245.00 601.10,243.20 604.70,237.30 606.90,231.50 609.80,224.20 614.90,220.50 619.30,213.20 624.40,209.60 628.80,206.40 633.20,205.20 664.50,204.50" fill="none" stroke="#1CC3CB" stroke-width="1.0" stroke-linejoin="round"/>
<rect x="529.60" y="197.70" width="134.90" height="157.30" fill="none" stroke="#9c9c9c" stroke-width="1.1"/>
<line x1="527.40" y1="348.30" x2="529.60" y2="348.30" stroke="#555" stroke-width="0.9" />
<line x1="527.40" y1="312.45" x2="529.60" y2="312.45" stroke="#555" stroke-width="0.9" />
<line x1="527.40" y1="276.60" x2="529.60" y2="276.60" stroke="#555" stroke-width="0.9" />
<line x1="527.40" y1="240.75" x2="529.60" y2="240.75" stroke="#555" stroke-width="0.9" />
<line x1="527.40" y1="204.90" x2="529.60" y2="204.90" stroke="#555" stroke-width="0.9" />
<text x="525.70" y="350.40" font-size="6.2" fill="#333" text-anchor="end" font-weight="600" >0.00</text>
<text x="525.70" y="314.55" font-size="6.2" fill="#333" text-anchor="end" font-weight="600" >0.25</text>
<text x="525.70" y="278.70" font-size="6.2" fill="#333" text-anchor="end" font-weight="600" >0.50</text>
<text x="525.70" y="242.85" font-size="6.2" fill="#333" text-anchor="end" font-weight="600" >0.75</text>
<text x="525.70" y="207.00" font-size="6.2" fill="#333" text-anchor="end" font-weight="600" >1.00</text>
<line x1="536.20" y1="355.00" x2="536.20" y2="357.20" stroke="#555" stroke-width="0.9" />
<line x1="566.80" y1="355.00" x2="566.80" y2="357.20" stroke="#555" stroke-width="0.9" />
<line x1="597.40" y1="355.00" x2="597.40" y2="357.20" stroke="#555" stroke-width="0.9" />
<line x1="628.20" y1="355.00" x2="628.20" y2="357.20" stroke="#555" stroke-width="0.9" />
<line x1="658.90" y1="355.00" x2="658.90" y2="357.20" stroke="#555" stroke-width="0.9" />
<text x="536.20" y="362.60" font-size="6.2" fill="#333" text-anchor="middle" font-weight="600" >19.9</text>
<text x="566.80" y="362.60" font-size="6.2" fill="#333" text-anchor="middle" font-weight="600" >25.2</text>
<text x="597.40" y="362.60" font-size="6.2" fill="#333" text-anchor="middle" font-weight="600" >30.5</text>
<text x="628.20" y="362.60" font-size="6.2" fill="#333" text-anchor="middle" font-weight="600" >35.8</text>
<text x="658.90" y="362.60" font-size="6.2" fill="#333" text-anchor="middle" font-weight="600" >41.1</text>
<text x="597.40" y="374.40" font-size="8.2" fill="#262626" text-anchor="middle" font-weight="normal" textLength="27.8" lengthAdjust="spacingAndGlyphs" stroke="#262626" stroke-width="0.12">MCH (fl)</text>
<text transform="translate(508.00,276.60) rotate(-90)" x="0" y="0" dy="0.35em" font-size="8.0" fill="#262626" stroke="#262626" stroke-width="0.12" text-anchor="middle" textLength="94" lengthAdjust="spacingAndGlyphs">Função de distribuição empírica</text>
</svg></body></html>
